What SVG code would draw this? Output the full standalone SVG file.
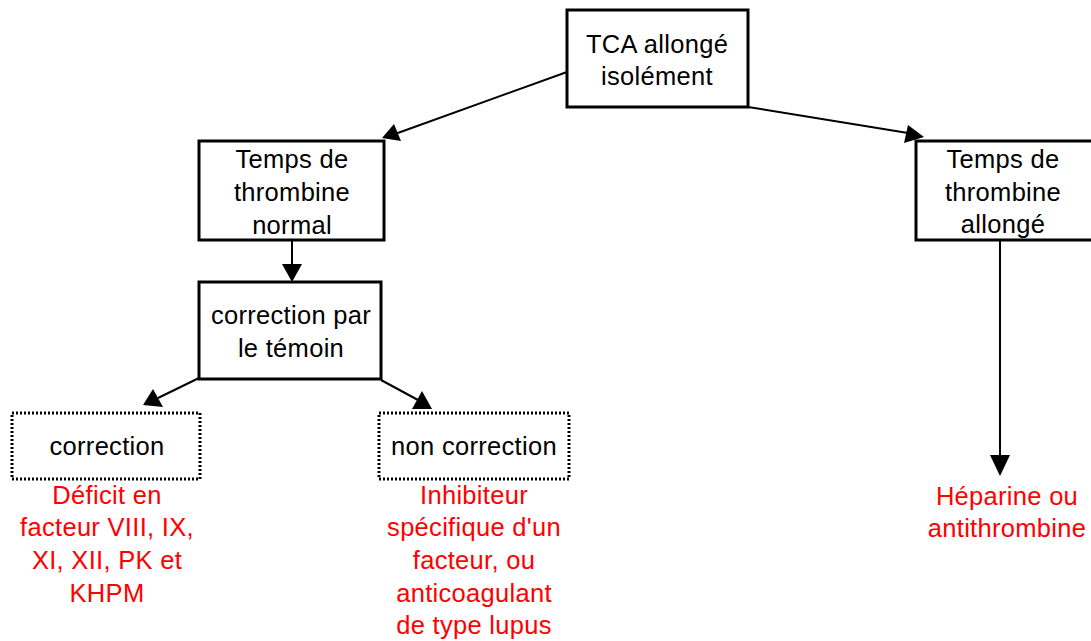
<svg xmlns="http://www.w3.org/2000/svg" width="1091" height="641" viewBox="0 0 1091 641">
<style>
text{font-family:"Liberation Sans",Arial,sans-serif;font-size:25.5px;letter-spacing:0.3px;text-anchor:middle;fill:#000}
.red{fill:#ff0000}
.box{fill:#fff;stroke:#000;stroke-width:3}
.dot{fill:#fff;stroke:#000;stroke-width:3;stroke-dasharray:2 2}
.edge{stroke:#000;stroke-width:2;fill:none}
.head{fill:#000}
</style>
<rect width="1091" height="641" fill="#fff"/>
<g id="connectors">
<path class="edge" d="M567,72 L395,134"/>
<polygon class="head" points="382,138 394,124 401,141"/>
<path class="edge" d="M748,107 L908,133"/>
<polygon class="head" points="924,137 904,143 908,125"/>
<path class="edge" d="M292,240 L292,266"/>
<polygon class="head" points="292,282 282,264 302,264"/>
<path class="edge" d="M199,378 L158,398"/>
<polygon class="head" points="143,405 153,389 163,407"/>
<path class="edge" d="M381,380 L418,400"/>
<polygon class="head" points="432,409 412,409 422,391"/>
<path class="edge" d="M1000,240 L1000,458"/>
<polygon class="head" points="1000,476 990,455 1010,455"/>
</g>
<g id="tca">
<rect class="box" x="567" y="10" width="181" height="97"/>
<text x="657" y="53">TCA allongé</text>
<text x="657" y="85">isolément</text>
</g>
<g id="tt-normal">
<rect class="box" x="199" y="141" width="185" height="99"/>
<text x="292" y="168">Temps de</text>
<text x="292" y="201">thrombine</text>
<text x="292" y="234">normal</text>
</g>
<g id="tt-allonge">
<rect class="box" x="916" y="141" width="178" height="99"/>
<text x="1003" y="168">Temps de</text>
<text x="1003" y="201">thrombine</text>
<text x="1003" y="233">allongé</text>
</g>
<g id="correction-temoin">
<rect class="box" x="199" y="282" width="182" height="97"/>
<text x="291" y="324">correction par</text>
<text x="291" y="357">le témoin</text>
</g>
<g id="correction">
<rect class="dot" x="12" y="413" width="188" height="66"/>
<text x="107" y="455">correction</text>
<text class="red" x="107" y="504">Déficit en</text>
<text class="red" x="107" y="536">facteur VIII, IX,</text>
<text class="red" x="107" y="569">XI, XII, PK et</text>
<text class="red" x="107" y="602">KHPM</text>
</g>
<g id="non-correction">
<rect class="dot" x="379" y="413" width="190" height="66"/>
<text x="474" y="455">non correction</text>
<text class="red" x="474" y="504">Inhibiteur</text>
<text class="red" x="474" y="536">spécifique d'un</text>
<text class="red" x="474" y="569">facteur, ou</text>
<text class="red" x="474" y="602">anticoagulant</text>
<text class="red" x="474" y="634">de type lupus</text>
</g>
<g id="heparine">
<text class="red" x="1007" y="505">Héparine ou</text>
<text class="red" x="1007" y="537">antithrombine</text>
</g>
</svg>
